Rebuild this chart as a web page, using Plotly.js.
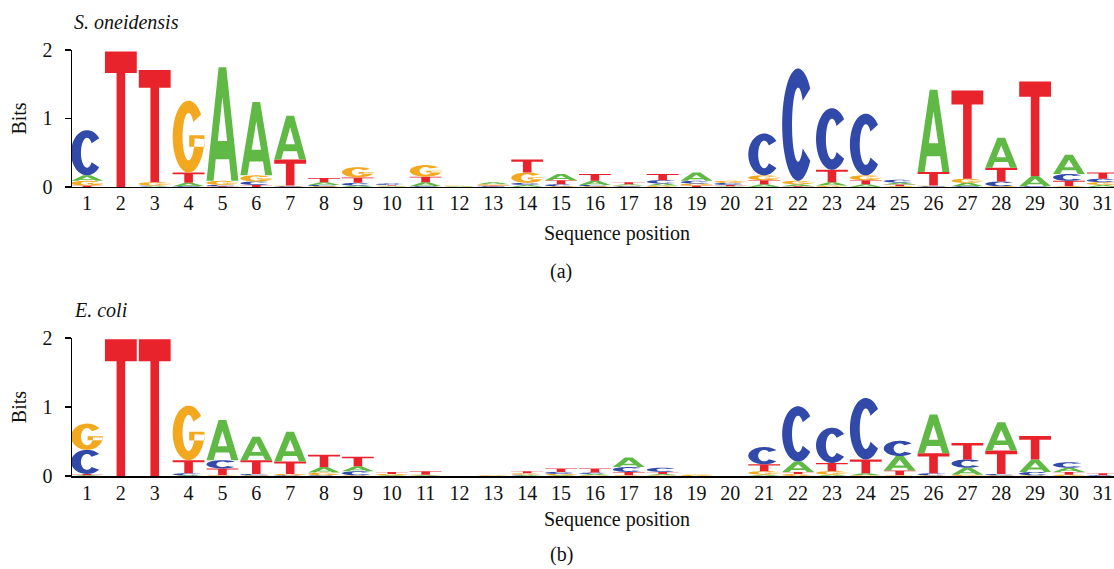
<!DOCTYPE html>
<html><head><meta charset="utf-8">
<script src="https://cdn.plot.ly/plotly-3.0.1.min.js"></script>
<style>html,body{margin:0;padding:0;background:#fff;}#chart{width:1114px;height:569px;}</style>
</head><body><div id="chart"></div>
<script>
// Sequence positions
const positions = [1,2,3,4,5,6,7,8,9,10,11,12,13,14,15,16,17,18,19,20,21,22,23,24,25,26,27,28,29,30,31];

// (a) S. oneidensis — information (bits) per nucleotide
const soA = [0.08,0,0.01,0.05,1.66,1.07,0.64,0.04,0.02,0.01,0.06,0.01,0.03,0.03,0.09,0.06,0.02,0.03,0.12,0.01,0.04,0.03,0.05,0.04,0.03,1.20,0.05,0.44,0.15,0.28,0.03];
const soC = [0.66,0,0.01,0.01,0.02,0.05,0.01,0.02,0.04,0.02,0.01,0,0.01,0.03,0.03,0.02,0.01,0.05,0.04,0.03,0.61,1.64,0.90,0.90,0.04,0.01,0.01,0.07,0.01,0.10,0.05];
const soG = [0.07,0,0.05,1.05,0.06,0.09,0.01,0.01,0.15,0.01,0.17,0.01,0.02,0.15,0.01,0.01,0.01,0.02,0.03,0.03,0.07,0.05,0.02,0.07,0.01,0.01,0.06,0.01,0,0.01,0.04];
const soT = [0.02,1.98,1.64,0.15,0.01,0.03,0.38,0.06,0.08,0.01,0.08,0,0.01,0.19,0.06,0.10,0.03,0.09,0.02,0.02,0.06,0.01,0.18,0.06,0.025,0.20,1.29,0.20,1.38,0.08,0.09];

// (b) E. coli
const ecA = [0.01,0,0,0.01,0.58,0.34,0.43,0.08,0.07,0.01,0.01,0,0,0.01,0.01,0.02,0.14,0.02,0,0,0.02,0.15,0.02,0.03,0.21,0.56,0.10,0.41,0.18,0.06,0];
const ecC = [0.35,0,0,0.03,0.12,0.02,0.01,0.01,0.06,0,0,0,0,0.01,0.03,0.02,0.07,0.06,0,0,0.25,0.80,0.51,0.89,0.22,0.03,0.12,0.02,0.05,0.08,0.01];
const ecG = [0.38,0,0,0.79,0.01,0.01,0.02,0.04,0.01,0.02,0.01,0,0.01,0.02,0.02,0.01,0.01,0.01,0.02,0,0.05,0.03,0.05,0.01,0.01,0.01,0.02,0.01,0.01,0.02,0];
const ecT = [0.02,1.98,1.98,0.19,0.10,0.20,0.18,0.18,0.14,0.03,0.05,0,0,0.03,0.05,0.06,0.05,0.03,0,0,0.10,0.03,0.12,0.20,0.07,0.29,0.24,0.34,0.34,0.04,0.03];

const panelTitles = ['S. oneidensis', 'E. coli'];
const panelLabels = ['(a)', '(b)'];
const yTicks = [0, 1, 2];

const COLORS = {A: '#5fb944', C: '#3149a8', G: '#f2a81f', T: '#e8232b'};

function ellPts(rx, ry, a0, a1, n) {
  const pts = [];
  for (let i = 0; i <= n; i++) {
    const a = (a0 + (a1 - a0) * i / n) * Math.PI / 180;
    pts.push([0.5 + rx * Math.cos(a), 0.5 + ry * Math.sin(a)]);
  }
  return pts;
}
// glyph outlines in a unit box
const GLYPHS = {
  T: [[[0,1],[1,1],[1,0.84],[0.635,0.84],[0.635,0],[0.365,0],[0.365,0.84],[0,0.84]]],
  A: [[[0,0],[0.38,1],[0.62,1],[1,0],[0.78,0],[0.71,0.19],[0.29,0.19],[0.22,0]],
      [[0.353,0.35],[0.647,0.35],[0.5,0.737]]],
  C: [ellPts(0.5,0.5,40,320,48).concat(ellPts(0.19,0.33,320,40,48))],
  G: [ellPts(0.5,0.5,38,356,48).concat(ellPts(0.19,0.33,356,38,48)),
      [[0.52,0.36],[1,0.36],[1,0.52],[0.52,0.52]]]
};
const W = 0.94;

function glyphPath(letter, x, y0, h) {
  return GLYPHS[letter].map(poly =>
    poly.map((p, i) => (i ? 'L' : 'M') + (x - W/2 + p[0]*W).toFixed(4) + ',' + (y0 + p[1]*h).toFixed(4)).join(' ') + ' Z'
  ).join(' ');
}

function logoShapes(series, xref, yref) {
  const shapes = [];
  positions.forEach((pos, i) => {
    const stack = ['A','C','G','T'].map(l => ({l, h: series[l][i]})).filter(o => o.h > 0);
    stack.sort((a, b) => a.h - b.h);
    let base = 0;
    stack.forEach(o => {
      shapes.push({type: 'path', xref, yref, path: glyphPath(o.l, pos, base, o.h),
        fillcolor: COLORS[o.l], line: {width: 0}, layer: 'above'});
      base += o.h;
    });
  });
  return shapes;
}

const shapes = logoShapes({A: soA, C: soC, G: soG, T: soT}, 'x', 'y')
  .concat(logoShapes({A: ecA, C: ecC, G: ecG, T: ecT}, 'x2', 'y2'));

const FONT = 'Liberation Serif, Times New Roman, serif';
const traces = [
  {x: positions, y: positions.map(() => 0), xaxis: 'x', yaxis: 'y', mode: 'markers', marker: {opacity: 0}, hoverinfo: 'skip', showlegend: false},
  {x: positions, y: positions.map(() => 0), xaxis: 'x2', yaxis: 'y2', mode: 'markers', marker: {opacity: 0}, hoverinfo: 'skip', showlegend: false}
];

function xAx(anchor) {
  return {domain: [0, 1], anchor, range: [0.557, 31.33], tickvals: positions, ticktext: positions.map(String),
    ticks: '', showline: true, linecolor: '#000', linewidth: 1.5, showgrid: false, zeroline: false,
    tickfont: {family: FONT, size: 20, color: '#111'}, ticklabelstandoff: -2, fixedrange: true};
}
function yAx(anchor, dom) {
  return {domain: dom, anchor, range: [0, 2], tickvals: yTicks, ticks: 'outside', ticklen: 6, tickwidth: 1.5,
    tickcolor: '#000', showline: true, linecolor: '#000', linewidth: 1.5, showgrid: false, zeroline: false,
    tickfont: {family: FONT, size: 20, color: '#111'}, ticklabelstandoff: 8,
    title: {text: 'Bits', font: {family: FONT, size: 20, color: '#111'}, standoff: 10}, fixedrange: true};
}

const layout = {
  width: 1114, height: 569, margin: {l: 72, r: 0, t: 0, b: 0}, paper_bgcolor: '#fff', plot_bgcolor: '#fff',
  showlegend: false,
  xaxis: xAx('y'), yaxis: yAx('x', [0.6714, 0.9121]),
  xaxis2: xAx('y2'), yaxis2: yAx('x2', [0.1634, 0.406]),
  shapes,
  annotations: [
    {text: '<i>' + panelTitles[0] + '</i>', xref: 'paper', yref: 'paper', x: 0, y: 1 - 22/569, xanchor: 'left', yanchor: 'middle', showarrow: false, font: {family: FONT, size: 20, color: '#111'}},
    {text: '<i>' + panelTitles[1] + '</i>', xref: 'paper', yref: 'paper', x: 0, y: 1 - 310/569, xanchor: 'left', yanchor: 'middle', showarrow: false, font: {family: FONT, size: 20, color: '#111'}},
    {text: 'Sequence position', xref: 'paper', yref: 'paper', x: 0.523, y: 1 - 233/569, xanchor: 'center', yanchor: 'middle', showarrow: false, font: {family: FONT, size: 20, color: '#111'}},
    {text: 'Sequence position', xref: 'paper', yref: 'paper', x: 0.523, y: 1 - 519/569, xanchor: 'center', yanchor: 'middle', showarrow: false, font: {family: FONT, size: 20, color: '#111'}},
    {text: panelLabels[0], xref: 'paper', yref: 'paper', x: 0.4693, y: 1 - 271/569, xanchor: 'center', yanchor: 'middle', showarrow: false, font: {family: FONT, size: 20, color: '#111'}},
    {text: panelLabels[1], xref: 'paper', yref: 'paper', x: 0.4693, y: 0, xanchor: 'center', yanchor: 'bottom', yshift: 1, showarrow: false, font: {family: FONT, size: 20, color: '#111'}}
  ]
};

Plotly.newPlot('chart', traces, layout, {displayModeBar: false, staticPlot: true});
</script></body></html>
